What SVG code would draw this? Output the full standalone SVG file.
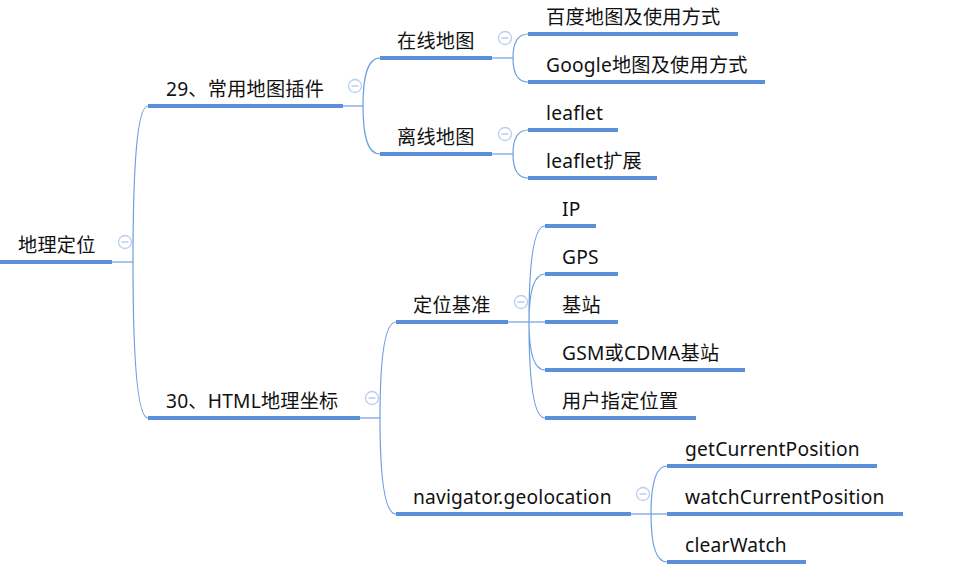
<svg xmlns="http://www.w3.org/2000/svg" width="976" height="579" viewBox="0 0 976 579">
<style>
text{font-family:"Noto Sans","Noto Sans CJK SC",sans-serif;font-size:19.2px;letter-spacing:0.2px;fill:#111;}
.ul{stroke:#5b8fd8;stroke-width:4;fill:none;}
.stub{stroke:#a9c5ee;stroke-width:2;fill:none;}
.cv{stroke:#6e9ee0;stroke-width:1.2;fill:none;}
.col circle{fill:#fff;stroke:#b9cdf0;stroke-width:1.3;}
.col line{stroke:#b9cdf0;stroke-width:1.5;}
</style>
<rect width="976" height="579" fill="#fff"/>
<g id="connectors">
<path class="stub" d="M112,262H133M343,106H363M360,418H380M492,58H513M492,154H513M508,322H545M631,514H667"/>
<path class="cv" d="M133,262C133,168 137,106 148,106M133,262C133,356 137,418 148,418"/>
<path class="cv" d="M363,106C363,77 367,58 380,58M363,106C363,135 367,154 380,154"/>
<path class="cv" d="M513,58C513,44 517,34 528,34M513,58C513,72 517,82 528,82"/>
<path class="cv" d="M513,154C513,140 517,130 528,130M513,154C513,168 517,178 528,178"/>
<path class="cv" d="M380,418C380,360 384,322 396,322M380,418C380,476 384,514 396,514"/>
<path class="cv" d="M529,322C529,264 533,226 545,226M529,322C529,293 533,274 545,274M529,322C529,351 533,370 545,370M529,322C529,380 533,418 545,418"/>
<path class="cv" d="M651,514C651,485 655,466 667,466M651,514C651,543 655,562 667,562"/>
</g>
<g id="n-root"><line class="ul" x1="0" y1="262" x2="112" y2="262"/><text x="18" y="252">地理定位</text>
<g class="col"><circle cx="125" cy="242" r="6.5"/><line x1="121.5" y1="242" x2="128.5" y2="242"/></g></g>
<g id="n-29"><line class="ul" x1="148" y1="106" x2="343" y2="106"/><text x="166" y="96">29、常用地图插件</text>
<g class="col"><circle cx="355" cy="86" r="6.5"/><line x1="351.5" y1="86" x2="358.5" y2="86"/></g></g>
<g id="n-online"><line class="ul" x1="380" y1="58" x2="492" y2="58"/><text x="397" y="48">在线地图</text>
<g class="col"><circle cx="505" cy="38" r="6.5"/><line x1="501.5" y1="38" x2="508.5" y2="38"/></g></g>
<g id="n-offline"><line class="ul" x1="380" y1="154" x2="492" y2="154"/><text x="397" y="144">离线地图</text>
<g class="col"><circle cx="505" cy="134" r="6.5"/><line x1="501.5" y1="134" x2="508.5" y2="134"/></g></g>
<g id="n-baidu"><line class="ul" x1="528" y1="34" x2="738" y2="34"/><text x="546" y="24">百度地图及使用方式</text></g>
<g id="n-google"><line class="ul" x1="528" y1="82" x2="765" y2="82"/><text x="546" y="72">Google地图及使用方式</text></g>
<g id="n-leaflet"><line class="ul" x1="528" y1="130" x2="618" y2="130"/><text x="546" y="120">leaflet</text></g>
<g id="n-leafletext"><line class="ul" x1="528" y1="178" x2="657" y2="178"/><text x="546" y="168">leaflet扩展</text></g>
<g id="n-30"><line class="ul" x1="148" y1="418" x2="360" y2="418"/><text x="166" y="408">30、HTML地理坐标</text>
<g class="col"><circle cx="372" cy="398" r="6.5"/><line x1="368.5" y1="398" x2="375.5" y2="398"/></g></g>
<g id="n-basis"><line class="ul" x1="396" y1="322" x2="508" y2="322"/><text x="413" y="312">定位基准</text>
<g class="col"><circle cx="521" cy="302" r="6.5"/><line x1="517.5" y1="302" x2="524.5" y2="302"/></g></g>
<g id="n-nav"><line class="ul" x1="396" y1="514" x2="631" y2="514"/><text x="413" y="504">navigator.geolocation</text>
<g class="col"><circle cx="643" cy="494" r="6.5"/><line x1="639.5" y1="494" x2="646.5" y2="494"/></g></g>
<g id="n-ip"><line class="ul" x1="545" y1="226" x2="596" y2="226"/><text x="562" y="216">IP</text></g>
<g id="n-gps"><line class="ul" x1="545" y1="274" x2="618" y2="274"/><text x="562" y="264">GPS</text></g>
<g id="n-station"><line class="ul" x1="545" y1="322" x2="618" y2="322"/><text x="562" y="312">基站</text></g>
<g id="n-gsm"><line class="ul" x1="545" y1="370" x2="745" y2="370"/><text x="562" y="360">GSM或CDMA基站</text></g>
<g id="n-user"><line class="ul" x1="545" y1="418" x2="696" y2="418"/><text x="562" y="408">用户指定位置</text></g>
<g id="n-get"><line class="ul" x1="667" y1="466" x2="877" y2="466"/><text x="685" y="456">getCurrentPosition</text></g>
<g id="n-watch"><line class="ul" x1="667" y1="514" x2="903" y2="514"/><text x="685" y="504">watchCurrentPosition</text></g>
<g id="n-clear"><line class="ul" x1="667" y1="562" x2="806" y2="562"/><text x="685" y="552">clearWatch</text></g>
</svg>
